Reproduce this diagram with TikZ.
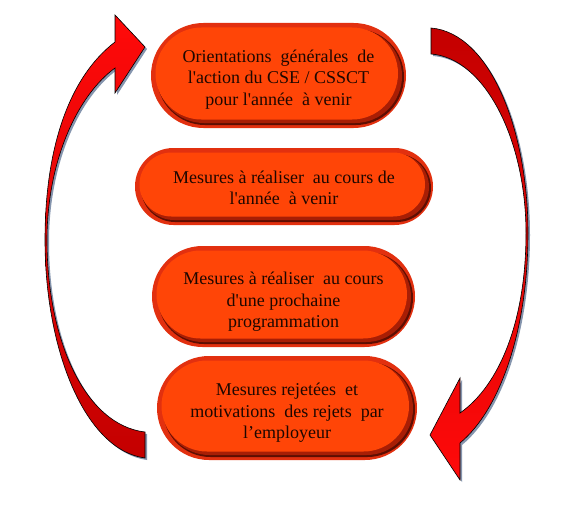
\documentclass[tikz,border=0pt]{standalone}
\usepackage{fontspec}
\setmainfont{Liberation Serif}
\usetikzlibrary{calc}
\definecolor{boxrim}{HTML}{E2300F}
\definecolor{boxdark}{HTML}{5E0E02}
\definecolor{boxmid}{HTML}{A81E05}
\definecolor{boxface}{HTML}{FF4507}
\definecolor{arrowshadow}{HTML}{8595AE}
\definecolor{txtcol}{HTML}{1E0700}
\definecolor{redlight}{HTML}{FF0A0A}
\definecolor{reddark}{HTML}{C40000}

\newcommand\pillbox[5]{%
  \node[inner sep=0pt, minimum width=#4pt, minimum height=#5pt] (#1) at (#2,#3) {};
  \pgfmathsetmacro\phw{#4/2}%
  \pgfmathsetmacro\phh{#5/2}%
  \pgfmathsetmacro\pra{\phh}%
  \pgfmathsetmacro\prb{\phh-4.5}%
  \pgfmathsetmacro\prc{\phh-5.5}%
  \pgfmathsetmacro\prd{\phh-6.5}%
  \fill[boxrim, rounded corners=\pra pt] ($(#1.center)+(-\phw,-\phh)$) rectangle ($(#1.center)+(\phw,\phh)$);
  \fill[boxdark, rounded corners=\prb pt] ($(#1.center)+(-\phw+6,-\phh+6)$) rectangle ($(#1.center)+(\phw-2,\phh-3)$);
  \fill[boxmid, rounded corners=\prc pt] ($(#1.center)+(-\phw+6,-\phh+6)$) rectangle ($(#1.center)+(\phw-4,\phh-5)$);
  \fill[boxface, rounded corners=\prd pt] ($(#1.center)+(-\phw+4.5,-\phh+4.5)$) rectangle ($(#1.center)+(\phw-8,\phh-8.5)$);
}

\def\leftarrowpath{(145,458) .. controls (85,450) and (45,350) .. (45,240) .. controls (45,150) and (68,78) .. (115,42) -- (115,15) -- (145,47) -- (115,93) -- (115,68) .. controls (78,95) and (47,160) .. (47,240) .. controls (47,340) and (85,425) .. (145,432) -- cycle}
\def\rightarrowpath{(431,28) .. controls (490,33) and (528,130) .. (528,233) .. controls (528,330) and (500,410) .. (460,443) -- (460,480) -- (430,435) -- (460,378) -- (460,413) .. controls (500,385) and (526,320) .. (526,233) .. controls (526,140) and (485,58) .. (431,54) -- cycle}

\begin{document}
\begin{tikzpicture}[x=1pt,y=-1pt,
  boxtext/.style={align=center, text=txtcol, inner sep=0pt,
    font=\fontsize{18}{21.5}\selectfont},
  arrowline/.style={draw=black, line width=0.6pt, line join=miter}]
\useasboundingbox (0,0) rectangle (568,511);
\fill[white] (0,0) rectangle (568,511);

% curved block arrows: shadows
\fill[arrowshadow, shift={(2,2)}] \leftarrowpath;
\fill[arrowshadow, shift={(2,2)}] \rightarrowpath;
% curved block arrows
\shadedraw[arrowline, top color=redlight, bottom color=reddark] \leftarrowpath;
\shadedraw[arrowline, top color=reddark, bottom color=redlight] \rightarrowpath;

% boxes
\pillbox{b1}{278.5}{75.5}{255}{105}
\pillbox{b2}{284}{186.5}{298}{77}
\pillbox{b3}{283.5}{296.5}{263}{101}
\pillbox{b4}{287}{408}{260}{104}

% texts
\node[boxtext] (t1) at (278.5,79.5) {Orientations\ \ générales\ \ de\\l\textquotesingle{}action du CSE / CSSCT\\pour l\textquotesingle{}année\ \ à venir};
\node[boxtext] (t2) at (284,188) {Mesures à réaliser\ \ au cours de\\l\textquotesingle{}année\ \ à venir};
\node[boxtext] (t3) at (283.5,302) {Mesures à réaliser\ \ au cours\\d\textquotesingle{}une prochaine\\programmation};
\node[boxtext] (t4) at (287,413) {Mesures rejetées\ \ et\\motivations\ \ des rejets\ \ par\\l’employeur};
\end{tikzpicture}
\end{document}
